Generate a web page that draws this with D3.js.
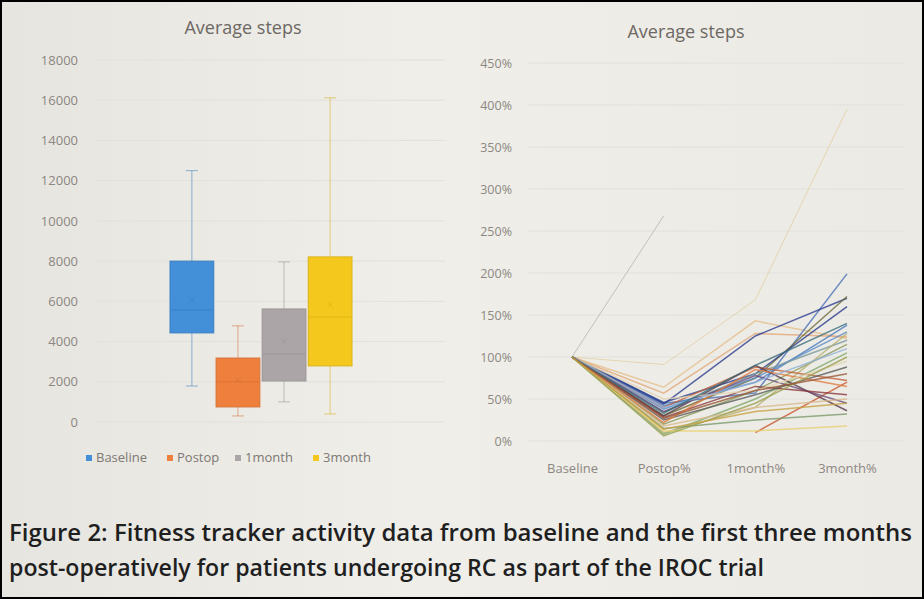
<!DOCTYPE html>
<html>
<head>
<meta charset="utf-8">
<script src="https://cdn.jsdelivr.net/npm/d3@7"></script>
<style>
  html, body { margin: 0; padding: 0; background: #000; }
  svg { display: block; }
</style>
</head>
<body>
<div id="chart"></div>
<script>
// box plot data (average steps)
var boxSeries = ["Baseline", "Postop", "1month", "3month"];
var boxColors = ["#438fd8", "#ef7f3c", "#aba5a7", "#f4c81c"];
var whiskerLow = [1790, 300, 1000, 400];
var q1Values = [4430, 750, 2040, 2790];
var medians = [5570, 2000, 3380, 5220];
var q3Values = [8000, 3180, 5620, 8210];
var whiskerHigh = [12500, 4780, 7960, 16120];
var means = [6100, 2100, 4000, 5820];
var stepTicks = [0, 2000, 4000, 6000, 8000, 10000, 12000, 14000, 16000, 18000];

// line chart data (percent of baseline per patient)
var timepoints = ["Baseline", "Postop%", "1month%", "3month%"];
var pctTicks = [0, 0.5, 1, 1.5, 2, 2.5, 3, 3.5, 4, 4.5];
var patients = [
  [1, 0.91, 1.68, 3.95],
  [1, 2.68, null, null],
  [1, 0.64, 1.43, 1.22],
  [1, 0.57, 1.28, 1.24],
  [1, 0.45, 0.57, 1.99],
  [1, 0.44, 1.25, 1.70],
  [1, 0.30, 0.75, 1.72],
  [1, 0.46, 0.80, 1.60],
  [1, 0.42, 0.70, 1.38],
  [1, 0.38, 0.75, 1.30],
  [1, 0.35, 0.80, 1.20],
  [1, 0.20, 0.60, 1.15],
  [1, 0.08, 0.50, 1.05],
  [1, 0.10, 0.40, 1.28],
  [1, 0.40, 0.88, 0.72],
  [1, null, 0.10, 0.70],
  [1, 0.30, 0.90, 0.36],
  [1, 0.35, 0.78, 0.45],
  [1, 0.28, 0.65, 0.55],
  [1, 0.25, 0.55, 0.88],
  [1, 0.12, 0.12, 0.18],
  [1, 0.15, 0.25, 0.32],
  [1, 0.18, 0.40, 0.50],
  [1, 0.22, 0.85, 0.65],
  [1, 0.50, 0.60, 0.95],
  [1, 0.40, 0.70, 1.10],
  [1, 0.06, 0.45, 1.00],
  [1, 0.33, 0.90, 1.40],
  [1, 0.27, 0.60, 0.80],
  [1, 0.14, 0.35, 0.45]
];
var patientColors = [
  "#e4cfa2", "#b9b5aa", "#e6bf8c", "#e2a878", "#4a6fb8", "#2f3f8f",
  "#6e6d3c", "#2a3d8c", "#4e7cc0", "#5b8cc8", "#7a9a9a", "#8a9a5b",
  "#7fa86a", "#b4b070", "#c0623a", "#c8582c", "#5a3a4a", "#6a4a7a",
  "#8a3a3a", "#5a5a5a", "#e8d070", "#7a9a6a", "#d9b88a", "#e07a40",
  "#e2d2b0", "#8fb0d8", "#9aa050", "#3d6e7a", "#9a5a3a", "#c8a040"
];

var W = 924, H = 599;
var svg = d3.select("#chart").append("svg").attr("width", W).attr("height", H);

var defs = svg.append("defs");
var grad = defs.append("linearGradient").attr("id", "paper")
  .attr("x1", "0").attr("x2", "1").attr("y1", "0").attr("y2", "0");
grad.append("stop").attr("offset", "0%").attr("stop-color", "#e6e5e0");
grad.append("stop").attr("offset", "45%").attr("stop-color", "#efeee9");
grad.append("stop").attr("offset", "100%").attr("stop-color", "#ebeae5");

svg.append("rect").attr("x", 2).attr("y", 2).attr("width", W - 4).attr("height", H - 4)
  .attr("fill", "url(#paper)");

var axisFont = "'Open Sans', 'DejaVu Sans', sans-serif";
var tickColor = "#8d8782";

// ---------- left chart: box plot ----------
var yL = d3.scaleLinear().domain([0, 18000]).range([422, 60]);
var xL = d3.scaleBand().domain(boxSeries).range([170, 352]).paddingInner(0.05);

var left = svg.append("g");

left.selectAll(".gridL").data(stepTicks).enter().append("line")
  .attr("x1", 95).attr("x2", 445)
  .attr("y1", d => yL(d)).attr("y2", d => yL(d))
  .attr("stroke", "#e2e1dc").attr("stroke-width", 1);

left.append("g").attr("transform", "translate(80,0)")
  .call(d3.axisLeft(yL).tickValues(stepTicks).tickSize(0).tickPadding(2).tickFormat(d3.format("d")))
  .call(g => g.select(".domain").remove())
  .selectAll("text").attr("fill", tickColor).style("font-family", axisFont).style("font-size", "13px");

left.append("text").attr("x", 243).attr("y", 34).attr("text-anchor", "middle")
  .style("font-family", axisFont).style("font-size", "18px").attr("fill", "#6d6863")
  .text("Average steps");

boxSeries.forEach(function (s, i) {
  var cx = xL(s) + xL.bandwidth() / 2;
  var g = left.append("g");
  var wc = d3.color(boxColors[i]).darker(0.4);
  // whiskers
  g.append("line").attr("x1", cx).attr("x2", cx)
    .attr("y1", yL(whiskerHigh[i])).attr("y2", yL(q3Values[i]))
    .attr("stroke", wc).attr("stroke-opacity", 0.55);
  g.append("line").attr("x1", cx).attr("x2", cx)
    .attr("y1", yL(q1Values[i])).attr("y2", yL(whiskerLow[i]))
    .attr("stroke", wc).attr("stroke-opacity", 0.55);
  [whiskerHigh[i], whiskerLow[i]].forEach(function (v) {
    g.append("line").attr("x1", cx - 6).attr("x2", cx + 6)
      .attr("y1", yL(v)).attr("y2", yL(v))
      .attr("stroke", wc).attr("stroke-opacity", 0.55);
  });
  // box
  g.append("rect").attr("x", xL(s)).attr("y", yL(q3Values[i]))
    .attr("width", xL.bandwidth()).attr("height", yL(q1Values[i]) - yL(q3Values[i]))
    .attr("fill", boxColors[i]).attr("stroke", d3.color(boxColors[i]).darker(0.3)).attr("stroke-width", 1);
  // median
  g.append("line").attr("x1", xL(s)).attr("x2", xL(s) + xL.bandwidth())
    .attr("y1", yL(medians[i])).attr("y2", yL(medians[i]))
    .attr("stroke", d3.color(boxColors[i]).darker(0.25)).attr("stroke-width", 1);
  // mean marker
  var my = yL(means[i]);
  g.append("path").attr("d", "M" + (cx - 3) + "," + (my - 3) + "L" + (cx + 3) + "," + (my + 3) +
      "M" + (cx + 3) + "," + (my - 3) + "L" + (cx - 3) + "," + (my + 3))
    .attr("stroke", d3.color(boxColors[i]).darker(0.5)).attr("stroke-width", 1).attr("stroke-opacity", 0.4);
});

// legend
var legendX = [86, 167, 235, 313];
var legend = left.selectAll(".leg").data(boxSeries).enter().append("g")
  .attr("transform", (d, i) => "translate(" + legendX[i] + ",462)");
legend.append("rect").attr("x", 0).attr("y", -7).attr("width", 6).attr("height", 6)
  .attr("fill", (d, i) => boxColors[i]);
legend.append("text").attr("x", 10).attr("y", 0)
  .style("font-family", axisFont).style("font-size", "13px").attr("fill", "#7d7873")
  .text(d => d);

// ---------- right chart: lines ----------
var yR = d3.scaleLinear().domain([0, 4.5]).range([441, 63]);
var xR = d3.scalePoint().domain(timepoints).range([572, 847]);

var right = svg.append("g");

right.selectAll(".gridR").data(pctTicks).enter().append("line")
  .attr("x1", 528).attr("x2", 905)
  .attr("y1", d => yR(d)).attr("y2", d => yR(d))
  .attr("stroke", "#e2e1dc").attr("stroke-width", 1);

right.append("g").attr("transform", "translate(514,0)")
  .call(d3.axisLeft(yR).tickValues(pctTicks).tickSize(0).tickPadding(2).tickFormat(d3.format(".0%")))
  .call(g => g.select(".domain").remove())
  .selectAll("text").attr("fill", tickColor).style("font-family", axisFont).style("font-size", "12.5px");

right.append("g").attr("transform", "translate(0,460)")
  .call(d3.axisBottom(xR).tickSize(0).tickPadding(4))
  .call(g => g.select(".domain").remove())
  .selectAll("text").attr("fill", tickColor).style("font-family", axisFont).style("font-size", "13px");

right.append("text").attr("x", 686).attr("y", 38).attr("text-anchor", "middle")
  .style("font-family", axisFont).style("font-size", "18px").attr("fill", "#6d6863")
  .text("Average steps");

var line = d3.line()
  .defined(d => d != null)
  .x((d, i) => xR(timepoints[i]))
  .y(d => yR(d));

right.selectAll(".patient").data(patients).enter().append("path")
  .attr("d", line)
  .attr("fill", "none")
  .attr("stroke", (d, i) => patientColors[i])
  .attr("stroke-width", (d, i) => (i < 2 ? 1 : 1.5))
  .attr("stroke-opacity", 0.8);

// ---------- caption ----------
var capFont = "'Open Sans', 'DejaVu Sans', sans-serif";
svg.append("text").attr("x", 9).attr("y", 541)
  .attr("textLength", 903).attr("lengthAdjust", "spacingAndGlyphs")
  .style("font-family", capFont).style("font-size", "23px").style("font-weight", 600)
  .attr("fill", "#1f1f1f")
  .text("Figure 2: Fitness tracker activity data from baseline and the first three months");
svg.append("text").attr("x", 9).attr("y", 576)
  .attr("textLength", 755).attr("lengthAdjust", "spacingAndGlyphs")
  .style("font-family", capFont).style("font-size", "23px").style("font-weight", 600)
  .attr("fill", "#1f1f1f")
  .text("post-operatively for patients undergoing RC as part of the IROC trial");
</script>
</body>
</html>
